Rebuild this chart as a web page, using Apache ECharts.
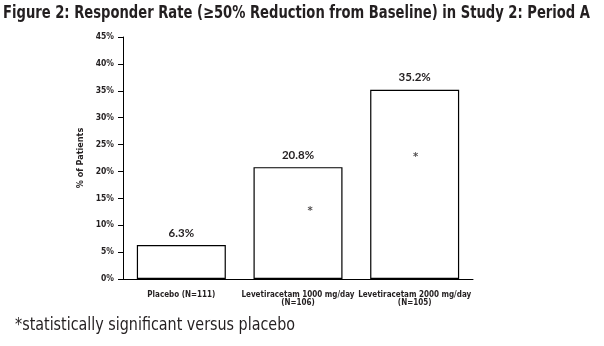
<!DOCTYPE html>
<html><head><meta charset="utf-8">
<script src="https://cdn.jsdelivr.net/npm/echarts@6/dist/echarts.min.js"></script>
<style>html,body{margin:0;padding:0;background:#fff}#c{width:604px;height:346px}</style>
</head><body><div id="c"></div>
<script>
const titleText = 'Figure 2: Responder Rate (≥50% Reduction from Baseline) in Study 2: Period A';
const footnoteText = '*statistically significant versus placebo';
const categories = ['Placebo (N=111)', 'Levetiracetam 1000 mg/day\n(N=106)', 'Levetiracetam 2000 mg/day\n(N=105)'];
const responderRate = [6.3, 20.8, 35.2];
const barLabels = ['6.3%', '20.8%', '35.2%'];
const asteriskValues = [null, 12.5, 22.7];
const yTicks = [0, 5, 10, 15, 20, 25, 30, 35, 40, 45];

const narrow = '"DejaVu Sans Condensed", "Liberation Sans Narrow", sans-serif';
const ctx = document.createElement('canvas').getContext('2d');
function fitScale(text, font, target) {
  ctx.font = font;
  return target / ctx.measureText(text).width;
}
const titleFont = 'bold 17.5px ' + narrow;
const footFont = '17px ' + narrow;
const titleScale = fitScale(titleText, titleFont, 587);
const footScale = fitScale(footnoteText, footFont, 280);

const chart = echarts.init(document.getElementById('c'), null, {renderer: 'canvas'});
chart.setOption({
  animation: false,
  backgroundColor: '#fff',
  graphic: [{
    type: 'text', x: 3, y: 4, scaleX: titleScale, silent: true,
    style: {text: titleText, font: titleFont, fill: '#231f20'}
  }, {
    type: 'text', x: 15, y: 317, scaleX: footScale, silent: true,
    style: {text: footnoteText, font: footFont, fill: '#231f20'}
  }],
  grid: {left: 123, right: 131, top: 37, bottom: 67},
  xAxis: {
    type: 'category', data: categories,
    axisLine: {lineStyle: {color: '#000', width: 1}},
    axisTick: {show: false},
    axisLabel: {interval: 0, margin: 12, fontFamily: narrow, fontWeight: 'bold', fontSize: 8, lineHeight: 8, color: '#231f20'}
  },
  yAxis: {
    type: 'value', min: 0, max: 45, interval: 5,
    name: '% of Patients', nameLocation: 'middle', nameGap: 27, nameRotate: 90,
    nameTextStyle: {fontFamily: narrow, fontWeight: 'bold', fontSize: 9, color: '#231f20'},
    axisLine: {show: true, lineStyle: {color: '#000', width: 1}},
    axisTick: {show: true, length: 5, lineStyle: {color: '#000'}},
    splitLine: {show: false},
    axisLabel: {margin: 9, fontFamily: narrow, fontWeight: 'bold', fontSize: 8.5, color: '#231f20',
      formatter: v => yTicks.includes(v) ? v + '%' : ''}
  },
  series: [{
    type: 'bar', data: responderRate, barWidth: 89,
    itemStyle: {color: '#fff', borderColor: '#000', borderWidth: 1.2},
    label: {show: true, position: 'top', distance: 6,
      formatter: p => barLabels[p.dataIndex],
      fontFamily: 'Lato, "Open Sans", sans-serif', fontWeight: 'bold', fontSize: 11.5, color: '#231f20'}
  }, {
    type: 'scatter', data: asteriskValues.map((v, i) => v == null ? null : {value: v, label: {offset: [i === 1 ? 12 : 1, 0]}}),
    symbolSize: 0, silent: true,
    label: {show: true, position: 'inside', formatter: '*', fontFamily: '"DejaVu Sans", sans-serif', fontWeight: 'bold', fontSize: 10, color: '#231f20'}
  }]
});
</script></body></html>
